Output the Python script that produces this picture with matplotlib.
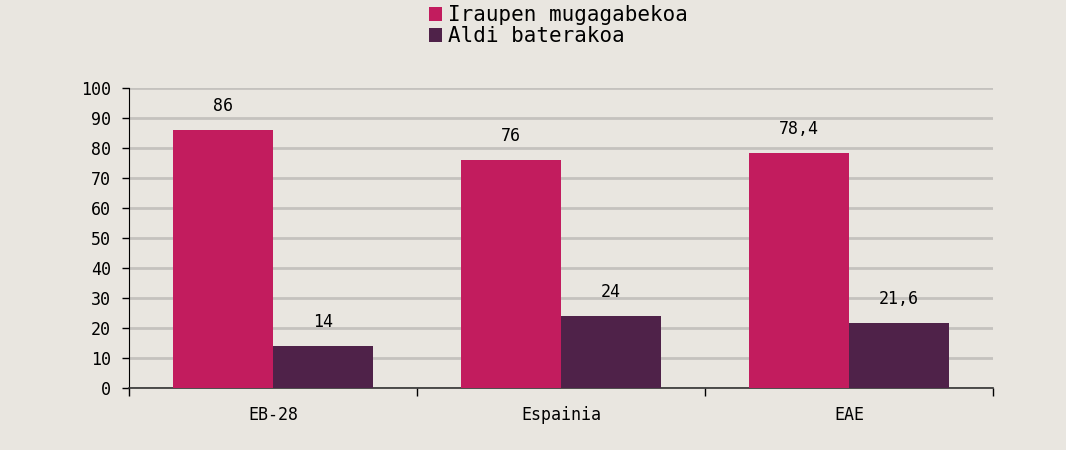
import matplotlib
matplotlib.use('Agg')
import matplotlib.pyplot as plt
import numpy as np

categories = ['EB-28', 'Espainia', 'EAE']
series_names = ['Iraupen mugagabekoa', 'Aldi baterakoa']
mugagabekoa = [86, 76, 78.4]
baterakoa = [14, 24, 21.6]
labels_mugagabekoa = ['86', '76', '78,4']
labels_baterakoa = ['14', '24', '21,6']
yticks = [0, 10, 20, 30, 40, 50, 60, 70, 80, 90, 100]

bg = '#E9E6E0'
pink = '#C21C5E'
purple = '#4F2249'
font = 'DejaVu Sans Mono'

fig = plt.figure(figsize=(10.66, 4.5), dpi=100, facecolor=bg)
ax = fig.add_axes([129 / 1066, 1 - 388 / 450, 864 / 1066, 300 / 450])
ax.set_facecolor(bg)

x = np.arange(len(categories))
w = 0.347
b1 = ax.bar(x - w / 2, mugagabekoa, w, color=pink, label=series_names[0], zorder=3)
b2 = ax.bar(x + w / 2, baterakoa, w, color=purple, label=series_names[1], zorder=3)

for rect, lab in zip(b1, labels_mugagabekoa):
    ax.annotate(lab, (rect.get_x() + rect.get_width() / 2, rect.get_height()),
                xytext=(0, 11), textcoords='offset points', ha='center', va='bottom',
                fontsize=12, family=font)
for rect, lab in zip(b2, labels_baterakoa):
    ax.annotate(lab, (rect.get_x() + rect.get_width() / 2, rect.get_height()),
                xytext=(0, 11), textcoords='offset points', ha='center', va='bottom',
                fontsize=12, family=font)

ax.set_xlim(-0.5, len(categories) - 0.5)
ax.set_ylim(0, 100)
ax.set_yticks(yticks)
ax.set_yticklabels([str(v) for v in yticks], fontsize=12, family=font)
ax.yaxis.grid(True, color='#C4C2BE', linewidth=2, zorder=0)
ax.tick_params(axis='y', length=5, width=1, direction='out', pad=8)

# category labels at centers, tick marks at boundaries
ax.set_xticks(x)
ax.set_xticklabels(categories, fontsize=12, family=font)
ax.tick_params(axis='x', which='major', length=0, pad=13)
ax.set_xticks(np.arange(-0.5, len(categories)), minor=True)
ax.tick_params(axis='x', which='minor', length=6, width=1, direction='out')

for s in ['top', 'right']:
    ax.spines[s].set_visible(False)
ax.spines['left'].set_color('black')
ax.spines['bottom'].set_color('#333333')
ax.spines['bottom'].set_linewidth(1.2)

leg = fig.legend(loc='upper center', bbox_to_anchor=(0.524, 1.03), frameon=False,
                 prop={'family': font, 'size': 15}, handlelength=0.6, handleheight=0.6,
                 handletextpad=0.3, labelspacing=0.05)

plt.savefig('out.png', facecolor=bg)
plt.close()
